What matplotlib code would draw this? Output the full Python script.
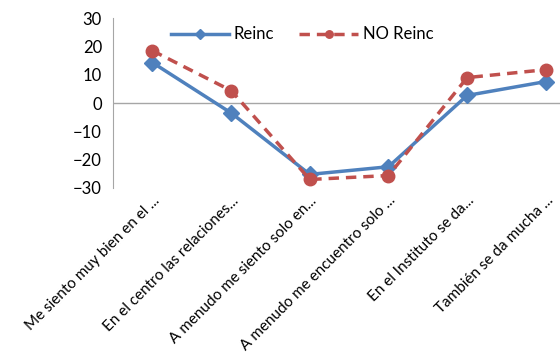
import matplotlib.pyplot as plt
import numpy as np

plt.rcParams['font.family'] = ['Lato', 'DejaVu Sans']

labels = ["Me siento muy bien en el ...", "En el centro las relaciones...",
          "A menudo me siento solo en...", "A menudo me encuentro solo ...",
          "En el Instituto se da...", "También se da mucha ..."]
reinc = [14.3, -3.5, -25.2, -22.5, 2.7, 7.6]
no_reinc = [18.5, 4.4, -27.0, -25.6, 9.0, 11.8]

fig = plt.figure(figsize=(5.6, 3.56), dpi=100)
ax = fig.add_axes([0.202, 0.472, 0.843, 0.477])

x = np.arange(len(labels))
ax.plot(x, reinc, color='#4F81BD', lw=2.5, marker='D', ms=8.5, label='Reinc')
ax.plot(x, no_reinc, color='#C0504D', lw=2.5, ls='--', dashes=(3, 2), marker='o', ms=9, label='NO Reinc')

ax.set_xlim(-0.5, 5.5)
ax.set_ylim(-30, 30)
ax.set_yticks(range(-30, 31, 10))
ax.axhline(0, color='#A6A6A6', lw=1, zorder=0)
for s in ['top', 'right', 'bottom']:
    ax.spines[s].set_visible(False)
ax.spines['left'].set_color('#A6A6A6')
ax.tick_params(axis='y', length=0, labelsize=12, pad=8)
ax.tick_params(axis='x', length=0, labelsize=11, pad=4)
ax.set_xticks(x)
ax.set_xticklabels(labels, rotation=45, ha='right', rotation_mode='anchor')

ax.legend(loc='upper center', bbox_to_anchor=(0.4, 1.04), ncol=2, frameon=False,
          fontsize=12, handlelength=3.5, columnspacing=1.5, handletextpad=0.3,
          markerscale=0.6)

fig.savefig('out.png')
